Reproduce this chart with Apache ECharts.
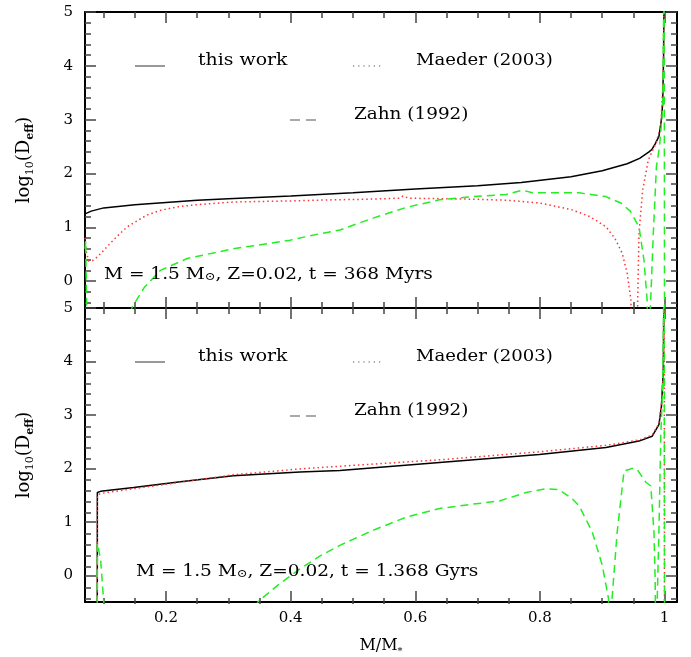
<!DOCTYPE html>
<html><head><meta charset="utf-8">
<script src="https://cdn.jsdelivr.net/npm/echarts@6/dist/echarts.min.js"></script>
<style>html,body{margin:0;padding:0;background:#fff}#c{width:691px;height:657px}</style>
</head><body><div id="c"></div>
<script>
// ---------- axis ticks / labels ----------
const xMajorTicks = [0.2, 0.4, 0.6, 0.8, 1];
const xMinorTicks = [0.1, 0.15, 0.25, 0.3, 0.35, 0.45, 0.5, 0.55, 0.65, 0.7, 0.75, 0.85, 0.9, 0.95];
const yMajorTicks = [0, 1, 2, 3, 4, 5];
const yMinorTicks = [-0.4, -0.2, 0.2, 0.4, 0.6, 0.8, 1.2, 1.4, 1.6, 1.8, 2.2, 2.4, 2.6, 2.8, 3.2, 3.4, 3.6, 3.8, 4.2, 4.4, 4.6, 4.8];
const xMin = 0.07, xMax = 1.02, yMin = -0.5, yMax = 5;

// ---------- legend / annotation texts ----------
const legendNames = ['this work', 'Maeder (2003)', 'Zahn (1992)'];
const topNote = 'M = 1.5 M{s|\u2299}, Z=0.02, t = 368 Myrs';
const bottomNote = 'M = 1.5 M{s|\u2299}, Z=0.02, t = 1.368 Gyrs';

// ---------- top panel (t = 368 Myrs) ----------
const topWorkX = [0.07, 0.08, 0.1, 0.15, 0.2, 0.25, 0.3, 0.4, 0.5, 0.6, 0.7, 0.77, 0.85, 0.9, 0.94, 0.96, 0.975, 0.98, 0.985, 0.991, 0.995, 0.997, 0.9985, 0.9995];
const topWorkY = [1.25, 1.3, 1.36, 1.42, 1.46, 1.5, 1.53, 1.58, 1.64, 1.71, 1.77, 1.83, 1.94, 2.05, 2.18, 2.28, 2.4, 2.45, 2.55, 2.69, 3.0, 3.3, 4.2, 6];

const topMaederX = [0.07, 0.072, 0.076, 0.082, 0.09, 0.1, 0.111, 0.125, 0.138, 0.155, 0.17, 0.19, 0.218, 0.25, 0.308, 0.4, 0.468, 0.52, 0.575, 0.58, 0.59, 0.65, 0.7, 0.75, 0.8, 0.85, 0.88, 0.906, 0.92, 0.932, 0.94, 0.946, 0.949, 0.955, 0.959, 0.965, 0.974, 0.986, 0.994, 0.998, 0.9995];
const topMaederY = [0.8, 0.55, 0.37, 0.38, 0.45, 0.57, 0.71, 0.87, 1.01, 1.13, 1.23, 1.31, 1.38, 1.42, 1.47, 1.49, 1.51, 1.52, 1.54, 1.58, 1.54, 1.53, 1.52, 1.5, 1.45, 1.33, 1.2, 1.01, 0.8, 0.52, 0.15, -0.35, -1.5, -1.5, 0.89, 1.7, 2.25, 2.56, 2.88, 3.8, 6];

const topZahnX = [0.07, 0.071, 0.074, 0.12, 0.138, 0.146, 0.165, 0.191, 0.234, 0.308, 0.399, 0.447, 0.479, 0.532, 0.586, 0.639, 0.692, 0.746, 0.772, 0.788, 0.863, 0.906, 0.93, 0.945, 0.959, 0.967, 0.972, 0.974, 0.977, 0.982, 0.987, 0.992, 0.997, 0.9995, 1.0];
const topZahnY = [0.6, 0.75, -1.5, -1.5, -0.7, -0.48, -0.12, 0.2, 0.42, 0.6, 0.76, 0.88, 0.95, 1.17, 1.37, 1.51, 1.57, 1.61, 1.69, 1.64, 1.64, 1.57, 1.45, 1.3, 1.01, 0.39, -0.35, -1.5, -1.5, 0.89, 2.13, 2.5, 3.2, 6, -1.5];

// ---------- bottom panel (t = 1.368 Gyrs) ----------
const botWorkX = [0.0897, 0.0898, 0.095, 0.148, 0.223, 0.308, 0.415, 0.479, 0.639, 0.799, 0.906, 0.959, 0.98, 0.991, 0.995, 0.998, 0.9995];
const botWorkY = [-1.5, 1.55, 1.57, 1.64, 1.75, 1.86, 1.93, 1.96, 2.11, 2.26, 2.39, 2.51, 2.6, 2.82, 3.16, 3.8, 6];

const botMaederX = [0.0897, 0.0898, 0.095, 0.148, 0.223, 0.308, 0.415, 0.479, 0.639, 0.799, 0.906, 0.959, 0.98, 0.991, 0.995, 0.998, 0.9995, 1.0];
const botMaederY = [-1.5, 1.5, 1.53, 1.62, 1.74, 1.88, 1.99, 2.04, 2.16, 2.31, 2.43, 2.53, 2.62, 2.84, 3.2, 3.8, 6, -1.5];

const botZahnX = [0.0895, 0.0898, 0.095, 0.1, 0.102, 0.3, 0.348, 0.38, 0.415, 0.45, 0.479, 0.532, 0.586, 0.639, 0.692, 0.735, 0.778, 0.81, 0.831, 0.85, 0.863, 0.884, 0.9, 0.91, 0.912, 0.914, 0.916, 0.924, 0.935, 0.943, 0.948, 0.956, 0.97, 0.978, 0.983, 0.985, 0.986, 0.988, 0.991, 0.994, 0.997, 0.9995, 1.0];
const botZahnY = [-1.5, 0.6, 0.3, -0.5, -1.5, -1.5, -0.49, -0.18, 0.12, 0.38, 0.56, 0.84, 1.09, 1.25, 1.33, 1.39, 1.55, 1.62, 1.6, 1.45, 1.3, 0.81, 0.19, -0.43, -1.5, -1.5, -0.4, 0.81, 1.95, 1.98, 2.0, 1.98, 1.74, 1.67, 0.81, -0.12, -1.5, -1.5, 0.81, 2.63, 3.5, 6, -1.5];

// ---------- build ----------
const FONT = 'DejaVu Serif';
const zip = (xs, ys) => xs.map((x, i) => [x, ys[i]]);
const C_WORK = '#000000', C_MAEDER = '#ff3333', C_ZAHN = '#22ee22';
const TICK = '#444';

function xAxisPair(grid, showLabels) {
  const base = {
    type: 'value', gridIndex: grid, min: xMin, max: xMax,
    axisLine: { show: true, onZero: false, lineStyle: { color: '#000', width: 2 } },
    axisTick: { show: true, inside: true, length: 11, customValues: xMajorTicks, lineStyle: { color: TICK, width: 1.5 } },
    splitLine: { show: false }
  };
  const bottom = Object.assign({}, base, {
    position: 'bottom',
    axisLabel: { show: showLabels, customValues: xMajorTicks, margin: 9, fontFamily: FONT, fontSize: 15, color: '#000' }
  });
  if (showLabels) {
    Object.assign(bottom, {
      name: 'M/M{s|*}', nameLocation: 'middle', nameGap: 34,
      nameTextStyle: { fontFamily: FONT, fontSize: 16, color: '#000', lineHeight: 20,
        rich: { s: { fontFamily: FONT, fontSize: 10, lineHeight: 8, verticalAlign: 'bottom', color: '#000' } } }
    });
  }
  const top = Object.assign({}, base, { position: 'top', axisLabel: { show: false } });
  return [bottom, top];
}
function xAxisMinorPair(grid) {
  const base = {
    type: 'value', gridIndex: grid, min: xMin, max: xMax,
    axisLine: { show: false, onZero: false },
    axisTick: { show: true, inside: true, length: 6, customValues: xMinorTicks, lineStyle: { color: TICK, width: 1.5 } },
    axisLabel: { show: false }, splitLine: { show: false }
  };
  return [Object.assign({}, base, { position: 'bottom' }), Object.assign({}, base, { position: 'top' })];
}
function yAxisPair(grid) {
  const base = {
    type: 'value', gridIndex: grid, min: yMin, max: yMax,
    axisLine: { show: true, onZero: false, lineStyle: { color: '#000', width: 2 } },
    axisTick: { show: true, inside: true, length: 11, customValues: yMajorTicks, lineStyle: { color: TICK, width: 1.5 } },
    splitLine: { show: false }
  };
  const left = Object.assign({}, base, {
    position: 'left',
    axisLabel: { show: true, customValues: yMajorTicks, margin: 12, fontFamily: FONT, fontSize: 15, color: '#000' },
    name: 'log{a|10}(D{b|eff})', nameLocation: 'middle', nameGap: 49, nameRotate: 90,
    nameTextStyle: { fontFamily: FONT, fontSize: 18, color: '#000', lineHeight: 24,
      rich: {
        a: { fontFamily: FONT, fontSize: 11, lineHeight: 11, verticalAlign: 'bottom', color: '#000' },
        b: { fontFamily: FONT, fontSize: 11, fontWeight: 'bold', lineHeight: 11, verticalAlign: 'bottom', color: '#000' }
      } }
  });
  const right = Object.assign({}, base, { position: 'right', axisLabel: { show: false } });
  return [left, right];
}
function yAxisMinorPair(grid) {
  const base = {
    type: 'value', gridIndex: grid, min: yMin, max: yMax,
    axisLine: { show: false, onZero: false },
    axisTick: { show: true, inside: true, length: 6, customValues: yMinorTicks, lineStyle: { color: TICK, width: 1.5 } },
    axisLabel: { show: false }, splitLine: { show: false }
  };
  return [Object.assign({}, base, { position: 'left' }), Object.assign({}, base, { position: 'right' })];
}

const gridRects = [
  { left: 85, top: 12, width: 592, height: 296 },
  { left: 85, top: 308, width: 592, height: 296 }
];
const grids = [gridRects[0], gridRects[1], gridRects[0], gridRects[1]];

const xAxes = [].concat(xAxisPair(0, false), xAxisPair(1, true), xAxisMinorPair(2), xAxisMinorPair(3));
const yAxes = [].concat(yAxisPair(0), yAxisPair(1), yAxisMinorPair(2), yAxisMinorPair(3));

function lineSeries(name, data, axisIdx, color, type, width) {
  return {
    name, type: 'line', data, xAxisIndex: axisIdx, yAxisIndex: axisIdx,
    showSymbol: false, symbol: 'none', clip: true, smooth: false, animation: false,
    lineStyle: { color, width, type }
  };
}
const series = [
  lineSeries(legendNames[0], zip(topWorkX, topWorkY), 0, C_WORK, 'solid', 1.5),
  lineSeries(legendNames[1], zip(topMaederX, topMaederY), 0, C_MAEDER, [1.5, 3], 1.5),
  lineSeries(legendNames[2], zip(topZahnX, topZahnY), 0, C_ZAHN, [8, 5], 1.5),
  lineSeries(legendNames[0], zip(botWorkX, botWorkY), 2, C_WORK, 'solid', 1.5),
  lineSeries(legendNames[1], zip(botMaederX, botMaederY), 2, C_MAEDER, [1.5, 3], 1.5),
  lineSeries(legendNames[2], zip(botZahnX, botZahnY), 2, C_ZAHN, [8, 5], 1.5)
];

const textFont = '16px "' + FONT + '"';
function txt(x, y, text, sx, rich) {
  const st = { text, x: 0, y: 0, font: textFont, fill: '#000', align: 'left', verticalAlign: 'middle', textAlign: 'left', textVerticalAlign: 'middle' };
  if (rich) st.rich = rich;
  return { type: 'text', x, y, scaleX: sx, scaleY: 1, style: st, z: 10 };
}
function seg(x1, x2, y, dash) {
  return { type: 'line', shape: { x1, y1: y, x2, y2: y }, style: { stroke: '#555', lineWidth: 1.2, lineDash: dash }, z: 10 };
}
const subRich = { s: { fontFamily: FONT, fontSize: 11, lineHeight: 8, verticalAlign: 'bottom', fill: '#000' } };
function panelGraphics(dy, note, noteX, noteY) {
  return [
    seg(135, 165, 66 + dy, null), txt(198, 61 + dy, legendNames[0], 1.18),
    seg(353, 382, 66 + dy, [1.2, 4]), txt(416, 61 + dy, legendNames[1], 1.13),
    seg(290, 316, 120 + dy, [10, 6]), txt(354, 115 + dy, legendNames[2], 1.15),
    txt(noteX, noteY, note, 1.16, subRich)
  ];
}
const graphic = [].concat(panelGraphics(0, topNote, 104, 275), panelGraphics(296, bottomNote, 136, 572));

const chart = echarts.init(document.getElementById('c'), null, { renderer: 'canvas' });
chart.setOption({
  backgroundColor: '#fff',
  animation: false,
  grid: grids,
  xAxis: xAxes,
  yAxis: yAxes,
  series,
  graphic
});
</script></body></html>
